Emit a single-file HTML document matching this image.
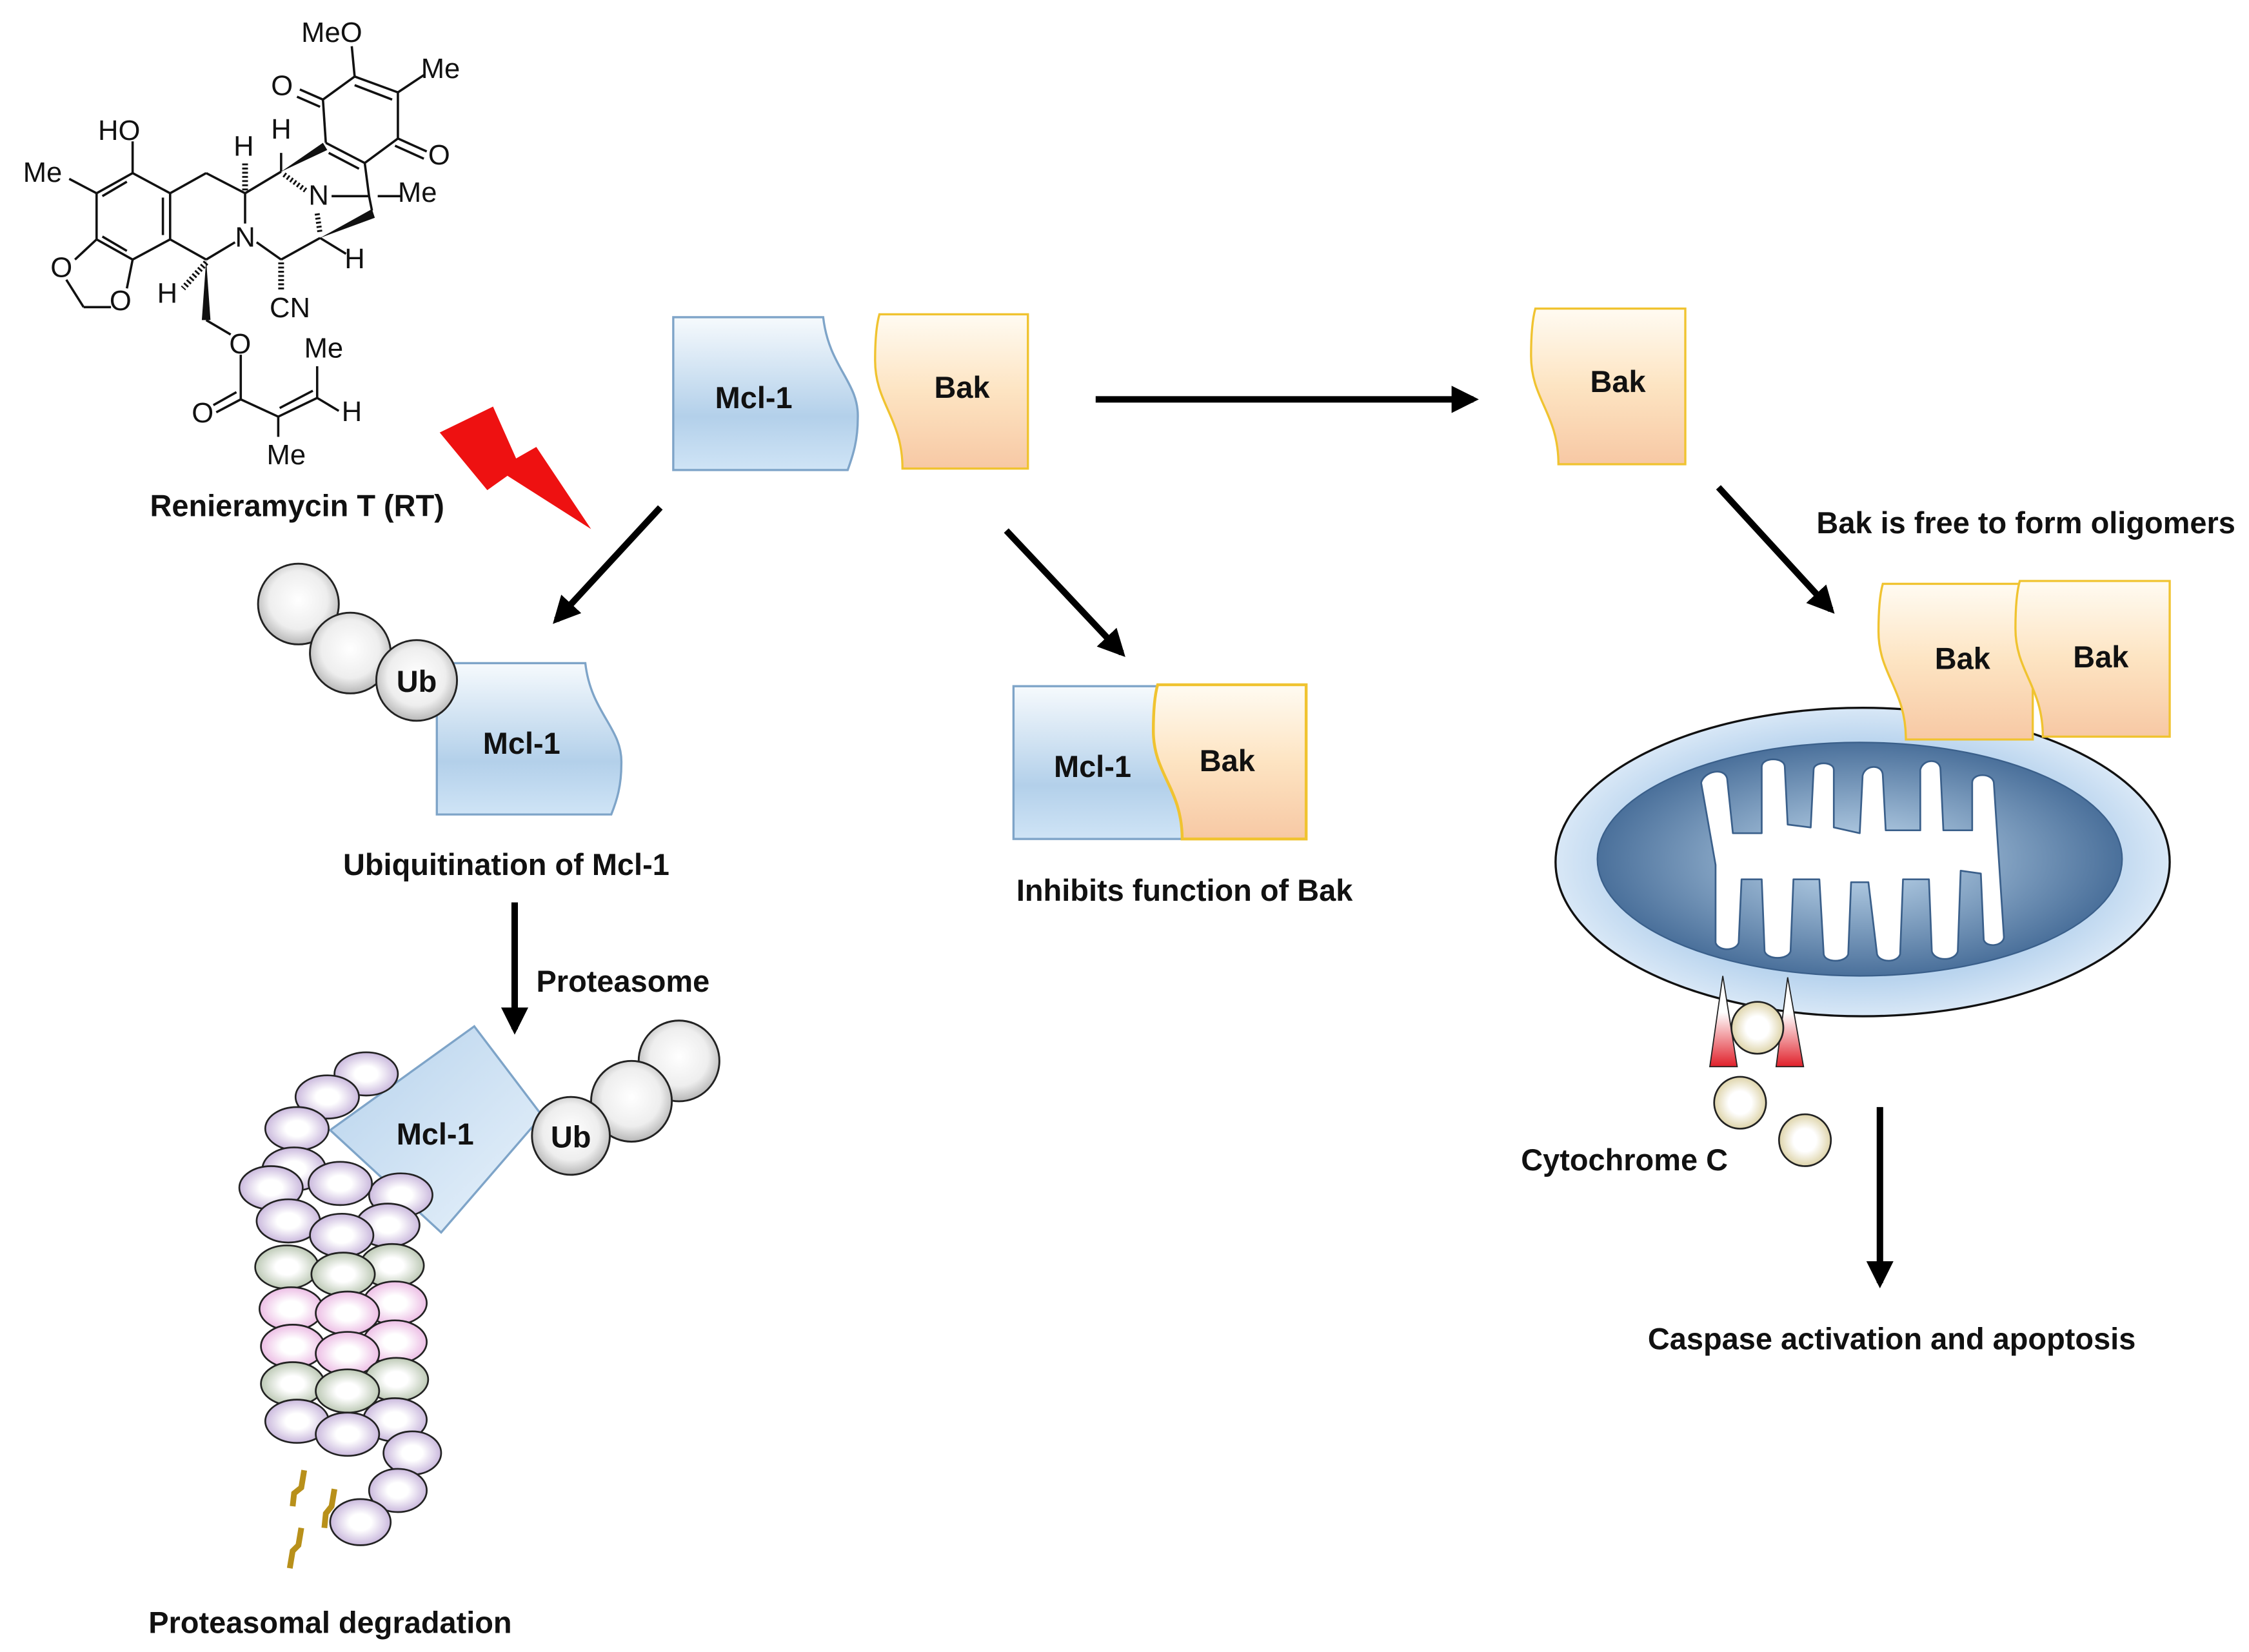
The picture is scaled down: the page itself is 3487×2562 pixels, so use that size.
<!DOCTYPE html>
<html><head><meta charset="utf-8"><style>
html,body{margin:0;padding:0;background:#fff;}
svg{display:block;}
text{font-family:"Liberation Sans",Arial,sans-serif;}
.b{font-weight:bold;font-size:21px;fill:#111;}
.m{font-size:19.5px;fill:#111;}
</style></head><body>
<svg width="3487" height="2562" viewBox="0 0 1560 1146" xmlns="http://www.w3.org/2000/svg">
<defs>
<linearGradient id="gm" x1="0" y1="0" x2="0" y2="1"><stop offset="0" stop-color="#f6fafd"/><stop offset="0.65" stop-color="#b3d0ea"/><stop offset="1" stop-color="#cfe4f6"/></linearGradient>
<linearGradient id="gb" x1="0" y1="0" x2="0" y2="1"><stop offset="0" stop-color="#fffbf2"/><stop offset="0.5" stop-color="#fde4c2"/><stop offset="1" stop-color="#f7c8a4"/></linearGradient>
<linearGradient id="gsq" x1="0" y1="0" x2="1" y2="1"><stop offset="0" stop-color="#b6d2ec"/><stop offset="1" stop-color="#e8f2fb"/></linearGradient>
<radialGradient id="gub" cx="0.5" cy="0.45" r="0.6"><stop offset="0" stop-color="#ffffff"/><stop offset="0.6" stop-color="#eeeeee"/><stop offset="1" stop-color="#a8a8a8"/></radialGradient>
<radialGradient id="gpu" cx="0.5" cy="0.5" r="0.6"><stop offset="0.3" stop-color="#ffffff"/><stop offset="1" stop-color="#b9a2d2"/></radialGradient>
<radialGradient id="ggr" cx="0.5" cy="0.5" r="0.6"><stop offset="0.3" stop-color="#ffffff"/><stop offset="1" stop-color="#a8b89e"/></radialGradient>
<radialGradient id="gpk" cx="0.5" cy="0.5" r="0.6"><stop offset="0.3" stop-color="#ffffff"/><stop offset="1" stop-color="#e6a8dc"/></radialGradient>
<radialGradient id="gcy" cx="0.5" cy="0.5" r="0.55"><stop offset="0.4" stop-color="#ffffff"/><stop offset="1" stop-color="#d8cc9a"/></radialGradient>
<radialGradient id="gin" cx="0.5" cy="0.5" r="0.55"><stop offset="0" stop-color="#c4dcf0"/><stop offset="1" stop-color="#3e6592"/></radialGradient>
<radialGradient id="gout" cx="0.5" cy="0.5" r="0.55"><stop offset="0.7" stop-color="#b9d4ee"/><stop offset="1" stop-color="#e6f0fa"/></radialGradient>
<linearGradient id="gtri" x1="0" y1="0" x2="0" y2="1"><stop offset="0.4" stop-color="#ffffff"/><stop offset="1" stop-color="#e0202a"/></linearGradient>
<marker id="ah" viewBox="0 0 10 10" refX="8" refY="5" markerWidth="4.2" markerHeight="4.2" orient="auto" markerUnits="strokeWidth"><path d="M0,0 L10,5 L0,10 Z" fill="#000"/></marker>
</defs>

<!-- Molecule -->
<g stroke="#111" stroke-width="1.6" fill="none">
<line x1="92" y1="98" x2="92" y2="120"/>
<line x1="48" y1="124" x2="67" y2="134"/>
<line x1="92" y1="120" x2="67" y2="134"/><line x1="88" y1="126" x2="71" y2="136"/>
<line x1="67" y1="134" x2="67" y2="166"/>
<line x1="67" y1="166" x2="92" y2="180"/><line x1="71" y1="164" x2="88" y2="174"/>
<line x1="92" y1="180" x2="118" y2="166"/>
<line x1="118" y1="166" x2="118" y2="134"/><line x1="113" y1="163" x2="113" y2="137"/>
<line x1="118" y1="134" x2="92" y2="120"/>
<line x1="67" y1="166" x2="52" y2="180"/>
<line x1="92" y1="180" x2="88" y2="200"/>
<line x1="46" y1="194" x2="58" y2="213"/><line x1="58" y1="213" x2="77" y2="213"/>
<line x1="118" y1="134" x2="143" y2="120"/>
<line x1="143" y1="120" x2="170" y2="134"/>
<line x1="170" y1="134" x2="170" y2="155"/>
<line x1="163" y1="168" x2="143" y2="180"/>
<line x1="143" y1="180" x2="118" y2="166"/>
<line x1="178" y1="168" x2="195" y2="180"/>
<line x1="195" y1="180" x2="222" y2="165"/>
<line x1="170" y1="134" x2="195" y2="119"/>
<line x1="195" y1="119" x2="195" y2="106"/>
<line x1="230" y1="136" x2="256" y2="136"/>
<line x1="256" y1="136" x2="258" y2="146"/>
<line x1="256" y1="136" x2="253" y2="113"/>
<line x1="262" y1="136" x2="278" y2="136"/>
<line x1="222" y1="165" x2="240" y2="176"/>
<line x1="226" y1="99" x2="253" y2="113"/><line x1="228" y1="106" x2="249" y2="117"/>
<line x1="226" y1="99" x2="224" y2="69"/>
<line x1="224" y1="69" x2="246" y2="53"/>
<line x1="246" y1="53" x2="276" y2="64"/><line x1="246" y1="59" x2="272" y2="69"/>
<line x1="276" y1="64" x2="276" y2="96"/>
<line x1="276" y1="96" x2="253" y2="113"/>
<line x1="224" y1="69" x2="208" y2="62"/><line x1="222" y1="74" x2="206" y2="67"/>
<line x1="276" y1="96" x2="296" y2="105"/><line x1="274" y1="101" x2="294" y2="110"/>
<line x1="246" y1="53" x2="244" y2="32"/>
<line x1="276" y1="64" x2="294" y2="52"/>
<line x1="143" y1="222" x2="160" y2="232"/>
<line x1="167" y1="246" x2="167" y2="277"/>
<line x1="167" y1="277" x2="150" y2="286"/><line x1="164" y1="272" x2="148" y2="281"/>
<line x1="167" y1="277" x2="193" y2="289"/>
<line x1="193" y1="289" x2="220" y2="276"/><line x1="194" y1="283" x2="217" y2="271"/>
<line x1="193" y1="289" x2="193" y2="303"/>
<line x1="220" y1="276" x2="220" y2="254"/>
<line x1="220" y1="276" x2="235" y2="285"/>
</g>
<polygon points="143,180 140,222 146,222" fill="#111"/>
<polygon points="195,119 224,99 227,104" fill="#111"/>
<polygon points="222,165 258,145 260,151" fill="#111"/>
<g stroke="#111" stroke-dasharray="1.3,1.6">
<line x1="170" y1="132" x2="170" y2="112" stroke-width="4"/>
<line x1="195" y1="182" x2="195" y2="201" stroke-width="4"/>
<line x1="143" y1="182" x2="127" y2="200" stroke-width="4"/>
<line x1="197" y1="121" x2="212" y2="132" stroke-width="3.5"/>
<line x1="220" y1="148" x2="222" y2="162" stroke-width="3.5"/>
</g>
<g class="m">
<text x="209" y="29">MeO</text>
<text x="292" y="54">Me</text>
<text x="188" y="66">O</text>
<text x="297" y="114">O</text>
<text x="68" y="97">HO</text>
<text x="16" y="126">Me</text>
<text x="162" y="108">H</text>
<text x="188" y="96">H</text>
<text x="214" y="142">N</text>
<text x="276" y="140">Me</text>
<text x="163" y="171">N</text>
<text x="239" y="186">H</text>
<text x="35" y="192">O</text>
<text x="76" y="215">O</text>
<text x="109" y="210">H</text>
<text x="187" y="220">CN</text>
<text x="159" y="245">O</text>
<text x="211" y="248">Me</text>
<text x="133" y="293">O</text>
<text x="237" y="292">H</text>
<text x="185" y="322">Me</text>
</g>
<text class="b" x="104" y="358">Renieramycin T (RT)</text>

<polygon points="305,300 342,282 358,318 372,310 410,367 352,330 338,340" fill="#ee1111"/>

<path d="M467,220 H571 C575,255 596,265 595,290 C595,305 592,315 588,326 H467 Z" fill="url(#gm)" stroke="#7ea4c8" stroke-width="1.5"/>
<text class="b" x="496" y="283">Mcl-1</text>
<path d="M610,218 H713 V325 H626 C626,290 607,280 607,250 C607,235 608,225 610,218 Z" fill="url(#gb)" stroke="#f0c330" stroke-width="1.5"/>
<text class="b" x="648" y="276">Bak</text>

<g stroke="#000" stroke-width="4.5" fill="none">
<line x1="760" y1="277" x2="1022" y2="277" marker-end="url(#ah)"/>
<line x1="1192" y1="338" x2="1270" y2="423" marker-end="url(#ah)"/>
<line x1="458" y1="352" x2="386" y2="430" marker-end="url(#ah)"/>
<line x1="698" y1="368" x2="778" y2="453" marker-end="url(#ah)"/>
<line x1="357" y1="626" x2="357" y2="714" marker-end="url(#ah)"/>
<line x1="1304" y1="768" x2="1304" y2="890" marker-end="url(#ah)"/>
</g>

<path d="M1065,214 H1169 V322 H1081 C1081,287 1062,277 1062,247 C1062,232 1063,221 1065,214 Z" fill="url(#gb)" stroke="#f0c330" stroke-width="1.5"/>
<text class="b" x="1103" y="272">Bak</text>
<text class="b" x="1260" y="370">Bak is free to form oligomers</text>

<ellipse cx="1292" cy="598" rx="213" ry="107" fill="url(#gout)" stroke="#111" stroke-width="1.5"/>
<ellipse cx="1290" cy="596" rx="182" ry="81" fill="url(#gin)" stroke="#3a5f8a" stroke-width="1"/>
<g fill="#fff" stroke="#3a5f8a" stroke-width="1.2" stroke-linejoin="round">
<path d="M1180,543 C1182,535 1196,532 1198,540 L1202,578 L1222,578 L1222,532 C1222,525 1238,525 1238,532 L1240,572 L1256,574 L1258,534 C1258,528 1272,528 1272,534 L1272,574 L1290,578 L1292,538 C1294,530 1306,530 1306,538 L1308,576 L1332,576 L1332,534 C1334,526 1346,526 1346,534 L1348,576 L1368,576 L1368,543 C1368,536 1382,536 1383,543 L1390,650 C1390,656 1378,658 1376,652 L1374,606 L1360,604 L1358,660 C1356,667 1342,667 1340,660 L1338,610 L1320,610 L1318,662 C1316,668 1304,668 1302,662 L1296,612 L1284,612 L1282,662 C1280,668 1266,668 1265,662 L1262,610 L1244,610 L1242,660 C1240,666 1226,666 1224,660 L1222,610 L1208,610 L1206,654 C1204,660 1192,660 1190,654 L1190,600 Z"/>
</g>

<path d="M1306,405 H1410 V513 H1322 C1322,478 1303,468 1303,438 C1303,423 1304,412 1306,405 Z" fill="url(#gb)" stroke="#f0c330" stroke-width="1.5"/>
<text class="b" x="1342" y="464">Bak</text>
<path d="M1401,403 H1505 V511 H1417 C1417,476 1398,466 1398,436 C1398,421 1399,410 1401,403 Z" fill="url(#gb)" stroke="#f0c330" stroke-width="1.5"/>
<text class="b" x="1438" y="463">Bak</text>

<polygon points="1195,677 1186,740 1205,740" fill="url(#gtri)" stroke="#222" stroke-width="0.8"/>
<polygon points="1240,678 1232,740 1251,740" fill="url(#gtri)" stroke="#222" stroke-width="0.8"/>
<circle cx="1219" cy="713" r="18" fill="url(#gcy)" stroke="#222" stroke-width="1.2"/>
<circle cx="1207" cy="765" r="18" fill="url(#gcy)" stroke="#222" stroke-width="1.2"/>
<circle cx="1252" cy="791" r="18" fill="url(#gcy)" stroke="#222" stroke-width="1.2"/>
<text class="b" x="1055" y="812">Cytochrome C</text>
<text class="b" x="1143" y="936">Caspase activation and apoptosis</text>

<rect x="703" y="476" width="117" height="106" fill="url(#gm)" stroke="#7ea4c8" stroke-width="1.5"/>
<text class="b" x="731" y="539">Mcl-1</text>
<path d="M803,475 H906 V582 H820 C820,547 800,537 800,507 C800,492 801,482 803,475 Z" fill="url(#gb)" stroke="#f0c330" stroke-width="2"/>
<text class="b" x="832" y="535">Bak</text>
<text class="b" x="705" y="625">Inhibits function of Bak</text>

<circle cx="207" cy="419" r="28" fill="url(#gub)" stroke="#222" stroke-width="1.3"/>
<circle cx="243" cy="453" r="28" fill="url(#gub)" stroke="#222" stroke-width="1.3"/>
<path d="M303,460 H406 C410,495 432,505 431,530 C431,545 428,555 424,565 H303 Z" fill="url(#gm)" stroke="#7ea4c8" stroke-width="1.5"/>
<circle cx="289" cy="472" r="28" fill="url(#gub)" stroke="#222" stroke-width="1.3"/>
<text class="b" x="275" y="480">Ub</text>
<text class="b" x="335" y="523">Mcl-1</text>
<text class="b" x="238" y="607">Ubiquitination of Mcl-1</text>
<text class="b" x="372" y="688">Proteasome</text>

<polygon points="329,712 376,774 306,855 229,784" fill="url(#gsq)" stroke="#7ea4c8" stroke-width="1.5"/>
<text class="b" x="275" y="794">Mcl-1</text>
<g stroke="#222" stroke-width="1.2">
<ellipse cx="254" cy="745" rx="22" ry="15" fill="url(#gpu)"/>
<ellipse cx="227" cy="761" rx="22" ry="15" fill="url(#gpu)"/>
<ellipse cx="206" cy="783" rx="22" ry="15" fill="url(#gpu)"/>
<ellipse cx="278" cy="829" rx="22" ry="15" fill="url(#gpu)"/>
<ellipse cx="204" cy="811" rx="22" ry="15" fill="url(#gpu)"/>
<ellipse cx="188" cy="824" rx="22" ry="15" fill="url(#gpu)"/>
<ellipse cx="269" cy="850" rx="22" ry="15" fill="url(#gpu)"/>
<ellipse cx="200" cy="847" rx="22" ry="15" fill="url(#gpu)"/>
<ellipse cx="236" cy="821" rx="22" ry="15" fill="url(#gpu)"/>
<ellipse cx="237" cy="857" rx="22" ry="15" fill="url(#gpu)"/>
<ellipse cx="272" cy="878" rx="22" ry="15" fill="url(#ggr)"/>
<ellipse cx="199" cy="879" rx="22" ry="15" fill="url(#ggr)"/>
<ellipse cx="238" cy="884" rx="22" ry="15" fill="url(#ggr)"/>
<ellipse cx="274" cy="904" rx="22" ry="15" fill="url(#gpk)"/>
<ellipse cx="202" cy="908" rx="22" ry="15" fill="url(#gpk)"/>
<ellipse cx="241" cy="911" rx="22" ry="15" fill="url(#gpk)"/>
<ellipse cx="274" cy="931" rx="22" ry="15" fill="url(#gpk)"/>
<ellipse cx="203" cy="934" rx="22" ry="15" fill="url(#gpk)"/>
<ellipse cx="241" cy="939" rx="22" ry="15" fill="url(#gpk)"/>
<ellipse cx="275" cy="957" rx="22" ry="15" fill="url(#ggr)"/>
<ellipse cx="203" cy="960" rx="22" ry="15" fill="url(#ggr)"/>
<ellipse cx="241" cy="965" rx="22" ry="15" fill="url(#ggr)"/>
<ellipse cx="274" cy="985" rx="22" ry="15" fill="url(#gpu)"/>
<ellipse cx="206" cy="986" rx="22" ry="15" fill="url(#gpu)"/>
<ellipse cx="241" cy="995" rx="22" ry="15" fill="url(#gpu)"/>
<ellipse cx="286" cy="1008" rx="20" ry="15" fill="url(#gpu)"/>
<ellipse cx="276" cy="1034" rx="20" ry="15" fill="url(#gpu)"/>
<ellipse cx="250" cy="1056" rx="21" ry="16" fill="url(#gpu)"/>
</g>
<g stroke="#b8901a" stroke-width="4" fill="none">
<path d="M211,1020 L209,1032 L204,1036 L203,1045"/>
<path d="M232,1033 L230,1045 L226,1050 L225,1060"/>
<path d="M209,1060 L207,1072 L203,1076 L201,1088"/>
</g>
<circle cx="471" cy="736" r="28" fill="url(#gub)" stroke="#222" stroke-width="1.3"/>
<circle cx="438" cy="764" r="28" fill="url(#gub)" stroke="#222" stroke-width="1.3"/>
<circle cx="396" cy="788" r="27" fill="url(#gub)" stroke="#222" stroke-width="1.3"/>
<text class="b" x="382" y="796">Ub</text>
<text class="b" x="103" y="1133">Proteasomal degradation</text>
</svg>
</body></html>
